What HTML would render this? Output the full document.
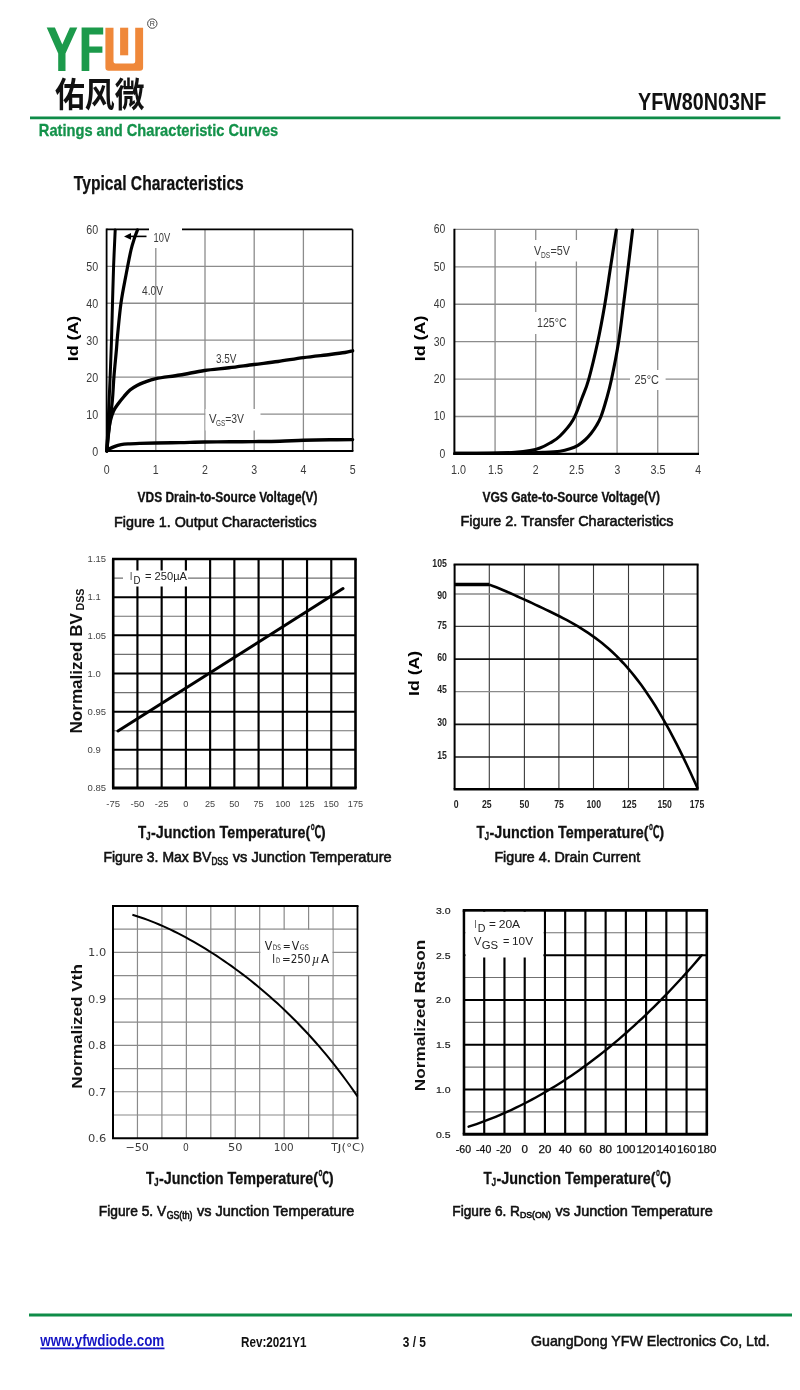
<!DOCTYPE html>
<html><head><meta charset="utf-8"><title>YFW80N03NF</title>
<style>html,body{margin:0;padding:0;background:#fff;}svg{display:block;}
</style></head>
<body><svg width="800" height="1390" viewBox="0 0 800 1390" font-family="'Liberation Sans', 'Noto Sans CJK SC', sans-serif">
<g fill="#1c9a4b">
<polygon points="46.7,27.6 54.9,27.6 62.3,44.6 69.9,27.6 77.3,27.6 65.5,53.6 65.5,70.9 58.2,70.9 58.2,53.6"/>
<polygon points="81.6,27.6 103.2,27.6 103.2,34.6 89.3,34.6 89.3,46.5 102.4,46.5 102.4,52.8 89.3,52.8 89.3,70.9 81.6,70.9"/>
</g>
<path fill="#ef883a" fill-rule="evenodd" d="M105.4,27.7 H113.5 V61.4 Q113.5,63.4 115.5,63.4 H133.2 Q135.2,63.4 135.2,61.4 V27.7 H143.1 V67.6 Q143.1,70.8 139.9,70.8 H108.6 Q105.4,70.8 105.4,67.6 Z"/>
<rect x="120.1" y="27.7" width="8.1" height="27.6" fill="#ef883a"/>
<circle cx="152.3" cy="23.6" r="4.7" fill="none" stroke="#333" stroke-width="0.9"/>
<text x="152.3" y="26.3" font-size="7.2" text-anchor="middle" fill="#333">R</text>
<text x="55" y="107" font-size="31" font-weight="bold" font-family="Noto Sans CJK SC, WenQuanYi Zen Hei, sans-serif" fill="#111" textLength="89.5" lengthAdjust="spacingAndGlyphs" transform="translate(0,-10.7) scale(1,1.1)">佑风微</text>
<text x="638" y="110.4" font-size="23.6" font-weight="bold" fill="#111" textLength="128.3" lengthAdjust="spacingAndGlyphs">YFW80N03NF</text>
<line x1="30.00" y1="117.85" x2="780.40" y2="117.85" stroke="#0e8c48" stroke-width="2.9"/>
<text x="38.8" y="136.4" font-size="16.6" font-weight="bold" fill="#13924a" textLength="239.4" lengthAdjust="spacingAndGlyphs" stroke="#13924a" stroke-width="0.3">Ratings and Characteristic Curves</text>
<text x="73.8" y="190.2" font-size="20" font-weight="bold" fill="#111" textLength="170" lengthAdjust="spacingAndGlyphs" stroke="#111" stroke-width="0.25">Typical Characteristics</text>
<line x1="29.00" y1="1315.00" x2="792.00" y2="1315.00" stroke="#0e8c48" stroke-width="2.9"/>
<text x="40.3" y="1346" font-size="16.5" font-weight="bold" fill="#1414c4" textLength="124" lengthAdjust="spacingAndGlyphs">www.yfwdiode.com</text>
<line x1="40.30" y1="1348.40" x2="164.50" y2="1348.40" stroke="#1414c4" stroke-width="1.9"/>
<text x="241" y="1347.3" font-size="14.5" font-weight="bold" fill="#111" textLength="65.6" lengthAdjust="spacingAndGlyphs">Rev:2021Y1</text>
<text x="402.8" y="1347.4" font-size="14.4" font-weight="bold" fill="#111" textLength="23.2" lengthAdjust="spacingAndGlyphs">3 / 5</text>
<text x="531.0" y="1345.6" font-size="14.8" fill="#111" textLength="238.8" lengthAdjust="spacingAndGlyphs" stroke="#111" stroke-width="0.55">GuangDong YFW Electronics Co, Ltd.</text>
<line x1="155.80" y1="229.40" x2="155.80" y2="451.00" stroke="#8c8c8c" stroke-width="1.3"/>
<line x1="205.00" y1="229.40" x2="205.00" y2="451.00" stroke="#8c8c8c" stroke-width="1.3"/>
<line x1="254.20" y1="229.40" x2="254.20" y2="451.00" stroke="#8c8c8c" stroke-width="1.3"/>
<line x1="303.40" y1="229.40" x2="303.40" y2="451.00" stroke="#8c8c8c" stroke-width="1.3"/>
<line x1="106.60" y1="414.07" x2="352.60" y2="414.07" stroke="#8c8c8c" stroke-width="1.3"/>
<line x1="106.60" y1="377.13" x2="352.60" y2="377.13" stroke="#8c8c8c" stroke-width="1.3"/>
<line x1="106.60" y1="340.20" x2="352.60" y2="340.20" stroke="#8c8c8c" stroke-width="1.3"/>
<line x1="106.60" y1="303.27" x2="352.60" y2="303.27" stroke="#8c8c8c" stroke-width="1.3"/>
<line x1="106.60" y1="266.33" x2="352.60" y2="266.33" stroke="#8c8c8c" stroke-width="1.3"/>
<line x1="106.60" y1="229.40" x2="352.60" y2="229.40" stroke="#000" stroke-width="1.8"/>
<line x1="352.60" y1="229.40" x2="352.60" y2="451.00" stroke="#000" stroke-width="1.6"/>
<line x1="106.60" y1="228.50" x2="106.60" y2="452.00" stroke="#000" stroke-width="1.8"/>
<line x1="105.70" y1="451.00" x2="353.40" y2="451.00" stroke="#000" stroke-width="2.0"/>
<rect x="149.00" y="226.00" width="33.00" height="22.00" fill="#fff"/>
<rect x="205.50" y="409.00" width="55.00" height="21.50" fill="#fff"/>
<path d="M106.80,451.00 C107.03,445.83 107.67,431.83 108.20,420.00 C108.73,408.17 109.45,393.33 110.00,380.00 C110.55,366.67 111.08,352.83 111.50,340.00 C111.92,327.17 112.15,315.33 112.50,303.00 C112.85,290.67 113.15,278.17 113.60,266.00 C114.05,253.83 114.93,236.00 115.20,230.00" fill="none" stroke="#000" stroke-linejoin="round" stroke-linecap="round" stroke-width="3.0"/>
<path d="M106.80,451.00 C107.25,446.67 108.57,433.50 109.50,425.00 C110.43,416.50 111.65,408.17 112.40,400.00 C113.15,391.83 113.33,384.33 114.00,376.00 C114.67,367.67 115.80,356.83 116.40,350.00 C117.00,343.17 116.83,342.83 117.60,335.00 C118.37,327.17 119.60,313.00 121.00,303.00 C122.40,293.00 124.33,283.83 126.00,275.00 C127.67,266.17 129.58,256.17 131.00,250.00 C132.42,243.83 133.42,241.33 134.50,238.00 C135.58,234.67 137.00,231.33 137.50,230.00" fill="none" stroke="#000" stroke-linejoin="round" stroke-linecap="round" stroke-width="3.2"/>
<path d="M106.80,451.00 C107.00,448.50 107.42,441.00 108.00,436.00 C108.58,431.00 109.38,425.17 110.30,421.00 C111.22,416.83 112.22,413.83 113.50,411.00 C114.78,408.17 116.25,406.42 118.00,404.00 C119.75,401.58 122.00,398.83 124.00,396.50 C126.00,394.17 127.83,391.83 130.00,390.00 C132.17,388.17 134.67,386.77 137.00,385.50 C139.33,384.23 140.83,383.55 144.00,382.40 C147.17,381.25 150.00,379.83 156.00,378.60 C162.00,377.37 171.92,376.35 180.00,375.00 C188.08,373.65 196.33,371.70 204.50,370.50 C212.67,369.30 220.75,368.80 229.00,367.80 C237.25,366.80 245.83,365.55 254.00,364.50 C262.17,363.45 269.75,362.65 278.00,361.50 C286.25,360.35 294.83,358.77 303.50,357.60 C312.17,356.43 323.08,355.35 330.00,354.50 C336.92,353.65 341.23,353.12 345.00,352.50 C348.77,351.88 351.33,351.08 352.60,350.80" fill="none" stroke="#000" stroke-linejoin="round" stroke-linecap="round" stroke-width="3.4"/>
<path d="M106.80,451.00 C107.33,450.60 108.63,449.38 110.00,448.60 C111.37,447.82 113.17,446.95 115.00,446.30 C116.83,445.65 118.83,445.10 121.00,444.70 C123.17,444.30 124.83,444.12 128.00,443.90 C131.17,443.68 135.33,443.55 140.00,443.40 C144.67,443.25 149.33,443.13 156.00,443.00 C162.67,442.87 172.00,442.77 180.00,442.60 C188.00,442.43 195.67,442.13 204.00,442.00 C212.33,441.87 221.67,441.87 230.00,441.80 C238.33,441.73 245.67,441.70 254.00,441.60 C262.33,441.50 271.75,441.42 280.00,441.20 C288.25,440.98 295.17,440.53 303.50,440.30 C311.83,440.07 321.82,439.92 330.00,439.80 C338.18,439.68 348.83,439.63 352.60,439.60" fill="none" stroke="#000" stroke-linejoin="round" stroke-linecap="round" stroke-width="3.4"/>
<line x1="127.00" y1="236.40" x2="146.50" y2="236.40" stroke="#000" stroke-width="1.6"/>
<polygon points="124,236.4 131,233 131,239.8" fill="#000"/>
<text x="98.2" y="455.7" font-size="13.3" text-anchor="end" fill="#3a3a3a" textLength="5.95" lengthAdjust="spacingAndGlyphs">0</text>
<text x="98.2" y="418.76666666666665" font-size="13.3" text-anchor="end" fill="#3a3a3a" textLength="11.9" lengthAdjust="spacingAndGlyphs">10</text>
<text x="98.2" y="381.8333333333333" font-size="13.3" text-anchor="end" fill="#3a3a3a" textLength="11.9" lengthAdjust="spacingAndGlyphs">20</text>
<text x="98.2" y="344.90000000000003" font-size="13.3" text-anchor="end" fill="#3a3a3a" textLength="11.9" lengthAdjust="spacingAndGlyphs">30</text>
<text x="98.2" y="307.96666666666664" font-size="13.3" text-anchor="end" fill="#3a3a3a" textLength="11.9" lengthAdjust="spacingAndGlyphs">40</text>
<text x="98.2" y="271.03333333333336" font-size="13.3" text-anchor="end" fill="#3a3a3a" textLength="11.9" lengthAdjust="spacingAndGlyphs">50</text>
<text x="98.2" y="234.10000000000002" font-size="13.3" text-anchor="end" fill="#3a3a3a" textLength="11.9" lengthAdjust="spacingAndGlyphs">60</text>
<text x="106.6" y="474.2" font-size="13.0" text-anchor="middle" fill="#3a3a3a" textLength="5.9" lengthAdjust="spacingAndGlyphs">0</text>
<text x="155.8" y="474.2" font-size="13.0" text-anchor="middle" fill="#3a3a3a" textLength="5.9" lengthAdjust="spacingAndGlyphs">1</text>
<text x="205.0" y="474.2" font-size="13.0" text-anchor="middle" fill="#3a3a3a" textLength="5.9" lengthAdjust="spacingAndGlyphs">2</text>
<text x="254.20000000000002" y="474.2" font-size="13.0" text-anchor="middle" fill="#3a3a3a" textLength="5.9" lengthAdjust="spacingAndGlyphs">3</text>
<text x="303.4" y="474.2" font-size="13.0" text-anchor="middle" fill="#3a3a3a" textLength="5.9" lengthAdjust="spacingAndGlyphs">4</text>
<text x="352.6" y="474.2" font-size="13.0" text-anchor="middle" fill="#3a3a3a" textLength="5.9" lengthAdjust="spacingAndGlyphs">5</text>
<text x="153.6" y="241.6" font-size="12.8" fill="#3a3a3a" textLength="16.6" lengthAdjust="spacingAndGlyphs">10V</text>
<text x="142" y="295" font-size="12.6" fill="#3a3a3a" textLength="21" lengthAdjust="spacingAndGlyphs">4.0V</text>
<text x="216" y="362.5" font-size="12.6" fill="#3a3a3a" textLength="20.5" lengthAdjust="spacingAndGlyphs">3.5V</text>
<text x="209" y="422.5" font-size="12.6" fill="#3a3a3a" textLength="7.6" lengthAdjust="spacingAndGlyphs">V</text>
<text x="216.0" y="426.0" font-size="8.6" fill="#3a3a3a" textLength="9.2" lengthAdjust="spacingAndGlyphs">GS</text>
<text x="225.2" y="422.5" font-size="12.6" fill="#3a3a3a" textLength="18.8" lengthAdjust="spacingAndGlyphs">=3V</text>
<text transform="translate(78.2,338.5) rotate(-90)" x="0" y="0" font-size="14.2" font-weight="bold" text-anchor="middle" fill="#000" textLength="45.5" lengthAdjust="spacingAndGlyphs">Id (A)</text>
<text x="137.5" y="502.3" font-size="13.8" font-weight="bold" fill="#111" textLength="180" lengthAdjust="spacingAndGlyphs" stroke="#111" stroke-width="0.3">VDS Drain-to-Source Voltage(V)</text>
<text x="114.1" y="526.6" font-size="15.4" fill="#111" textLength="202.5" lengthAdjust="spacingAndGlyphs" stroke="#111" stroke-width="0.6">Figure 1. Output Characteristics</text>
<line x1="495.07" y1="229.40" x2="495.07" y2="453.90" stroke="#8c8c8c" stroke-width="1.3"/>
<line x1="535.73" y1="229.40" x2="535.73" y2="453.90" stroke="#8c8c8c" stroke-width="1.3"/>
<line x1="576.40" y1="229.40" x2="576.40" y2="453.90" stroke="#8c8c8c" stroke-width="1.3"/>
<line x1="617.07" y1="229.40" x2="617.07" y2="453.90" stroke="#8c8c8c" stroke-width="1.3"/>
<line x1="657.73" y1="229.40" x2="657.73" y2="453.90" stroke="#8c8c8c" stroke-width="1.3"/>
<line x1="698.40" y1="229.40" x2="698.40" y2="453.90" stroke="#8c8c8c" stroke-width="1.3"/>
<line x1="454.40" y1="416.48" x2="698.40" y2="416.48" stroke="#8c8c8c" stroke-width="1.3"/>
<line x1="454.40" y1="379.07" x2="698.40" y2="379.07" stroke="#8c8c8c" stroke-width="1.3"/>
<line x1="454.40" y1="341.65" x2="698.40" y2="341.65" stroke="#8c8c8c" stroke-width="1.3"/>
<line x1="454.40" y1="304.23" x2="698.40" y2="304.23" stroke="#8c8c8c" stroke-width="1.3"/>
<line x1="454.40" y1="266.82" x2="698.40" y2="266.82" stroke="#8c8c8c" stroke-width="1.3"/>
<line x1="454.40" y1="229.40" x2="698.40" y2="229.40" stroke="#8c8c8c" stroke-width="1.3"/>
<line x1="454.40" y1="228.80" x2="454.40" y2="454.90" stroke="#000" stroke-width="2.0"/>
<line x1="453.40" y1="453.90" x2="699.00" y2="453.90" stroke="#000" stroke-width="2.4"/>
<rect x="531.00" y="240.00" width="50.00" height="21.50" fill="#fff"/>
<rect x="532.00" y="312.00" width="38.00" height="22.00" fill="#fff"/>
<rect x="630.00" y="370.00" width="35.60" height="20.00" fill="#fff"/>
<path d="M455.00,453.30 C461.67,453.27 485.00,453.27 495.00,453.10 C505.00,452.93 509.17,452.72 515.00,452.30 C520.83,451.88 525.83,451.32 530.00,450.60 C534.17,449.88 536.67,449.27 540.00,448.00 C543.33,446.73 546.67,445.00 550.00,443.00 C553.33,441.00 556.17,439.83 560.00,436.00 C563.83,432.17 569.33,426.33 573.00,420.00 C576.67,413.67 579.38,404.78 582.00,398.00 C584.62,391.22 586.08,388.63 588.70,379.30 C591.32,369.97 595.02,354.47 597.70,342.00 C600.38,329.53 602.65,317.05 604.80,304.50 C606.95,291.95 608.68,279.12 610.60,266.70 C612.52,254.28 615.35,236.12 616.30,230.00" fill="none" stroke="#000" stroke-linejoin="round" stroke-linecap="round" stroke-width="3.1"/>
<path d="M455.00,453.40 C465.83,453.33 505.00,453.18 520.00,453.00 C535.00,452.82 538.33,452.60 545.00,452.30 C551.67,452.00 555.83,451.78 560.00,451.20 C564.17,450.62 567.00,449.78 570.00,448.80 C573.00,447.82 575.50,446.77 578.00,445.30 C580.50,443.83 582.83,441.97 585.00,440.00 C587.17,438.03 589.08,435.92 591.00,433.50 C592.92,431.08 594.83,428.33 596.50,425.50 C598.17,422.67 599.33,420.92 601.00,416.50 C602.67,412.08 604.75,405.20 606.50,399.00 C608.25,392.80 609.48,388.80 611.50,379.30 C613.52,369.80 616.60,354.47 618.60,342.00 C620.60,329.53 621.90,317.05 623.50,304.50 C625.10,291.95 626.68,279.12 628.20,266.70 C629.72,254.28 631.87,236.12 632.60,230.00" fill="none" stroke="#000" stroke-linejoin="round" stroke-linecap="round" stroke-width="3.1"/>
<text x="445.4" y="457.79999999999995" font-size="13.3" text-anchor="end" fill="#3a3a3a" textLength="5.8" lengthAdjust="spacingAndGlyphs">0</text>
<text x="445.4" y="420.38333333333327" font-size="13.3" text-anchor="end" fill="#3a3a3a" textLength="11.6" lengthAdjust="spacingAndGlyphs">10</text>
<text x="445.4" y="382.96666666666664" font-size="13.3" text-anchor="end" fill="#3a3a3a" textLength="11.6" lengthAdjust="spacingAndGlyphs">20</text>
<text x="445.4" y="345.54999999999995" font-size="13.3" text-anchor="end" fill="#3a3a3a" textLength="11.6" lengthAdjust="spacingAndGlyphs">30</text>
<text x="445.4" y="308.1333333333333" font-size="13.3" text-anchor="end" fill="#3a3a3a" textLength="11.6" lengthAdjust="spacingAndGlyphs">40</text>
<text x="445.4" y="270.71666666666664" font-size="13.3" text-anchor="end" fill="#3a3a3a" textLength="11.6" lengthAdjust="spacingAndGlyphs">50</text>
<text x="445.4" y="233.29999999999998" font-size="13.3" text-anchor="end" fill="#3a3a3a" textLength="11.6" lengthAdjust="spacingAndGlyphs">60</text>
<text x="458.6" y="474.4" font-size="13.0" text-anchor="middle" fill="#3a3a3a" textLength="15" lengthAdjust="spacingAndGlyphs">1.0</text>
<text x="495.5" y="474.4" font-size="13.0" text-anchor="middle" fill="#3a3a3a" textLength="15" lengthAdjust="spacingAndGlyphs">1.5</text>
<text x="535.6" y="474.4" font-size="13.0" text-anchor="middle" fill="#3a3a3a" textLength="5.8" lengthAdjust="spacingAndGlyphs">2</text>
<text x="576.5" y="474.4" font-size="13.0" text-anchor="middle" fill="#3a3a3a" textLength="15" lengthAdjust="spacingAndGlyphs">2.5</text>
<text x="617.4" y="474.4" font-size="13.0" text-anchor="middle" fill="#3a3a3a" textLength="5.8" lengthAdjust="spacingAndGlyphs">3</text>
<text x="658.1" y="474.4" font-size="13.0" text-anchor="middle" fill="#3a3a3a" textLength="15" lengthAdjust="spacingAndGlyphs">3.5</text>
<text x="698.2" y="474.4" font-size="13.0" text-anchor="middle" fill="#3a3a3a" textLength="5.8" lengthAdjust="spacingAndGlyphs">4</text>
<text x="534" y="255" font-size="12.6" fill="#3a3a3a" textLength="7.2" lengthAdjust="spacingAndGlyphs">V</text>
<text x="540.9" y="258.2" font-size="8.6" fill="#3a3a3a" textLength="9.2" lengthAdjust="spacingAndGlyphs">DS</text>
<text x="550.4" y="255" font-size="12.6" fill="#3a3a3a" textLength="19.6" lengthAdjust="spacingAndGlyphs">=5V</text>
<text x="537" y="327" font-size="13.2" fill="#3a3a3a" textLength="29.7" lengthAdjust="spacingAndGlyphs">125°C</text>
<text x="634.4" y="383.6" font-size="13.2" fill="#3a3a3a" textLength="24.6" lengthAdjust="spacingAndGlyphs">25°C</text>
<text transform="translate(425.0,338.4) rotate(-90)" x="0" y="0" font-size="14.2" font-weight="bold" text-anchor="middle" fill="#000" textLength="45.5" lengthAdjust="spacingAndGlyphs">Id (A)</text>
<text x="482.4" y="501.5" font-size="13.8" font-weight="bold" fill="#111" textLength="177.6" lengthAdjust="spacingAndGlyphs" stroke="#111" stroke-width="0.3">VGS Gate-to-Source Voltage(V)</text>
<text x="460.5" y="525.6" font-size="15.4" fill="#111" textLength="213" lengthAdjust="spacingAndGlyphs" stroke="#111" stroke-width="0.6">Figure 2. Transfer Characteristics</text>
<line x1="113.20" y1="578.08" x2="355.50" y2="578.08" stroke="#707070" stroke-width="1.1"/>
<line x1="113.20" y1="616.25" x2="355.50" y2="616.25" stroke="#707070" stroke-width="1.1"/>
<line x1="113.20" y1="654.42" x2="355.50" y2="654.42" stroke="#707070" stroke-width="1.1"/>
<line x1="113.20" y1="692.58" x2="355.50" y2="692.58" stroke="#707070" stroke-width="1.1"/>
<line x1="113.20" y1="730.75" x2="355.50" y2="730.75" stroke="#707070" stroke-width="1.1"/>
<line x1="113.20" y1="768.92" x2="355.50" y2="768.92" stroke="#707070" stroke-width="1.1"/>
<line x1="113.20" y1="597.17" x2="355.50" y2="597.17" stroke="#000" stroke-width="2.0"/>
<line x1="113.20" y1="635.33" x2="355.50" y2="635.33" stroke="#000" stroke-width="2.0"/>
<line x1="113.20" y1="673.50" x2="355.50" y2="673.50" stroke="#000" stroke-width="2.0"/>
<line x1="113.20" y1="711.67" x2="355.50" y2="711.67" stroke="#000" stroke-width="2.0"/>
<line x1="113.20" y1="749.83" x2="355.50" y2="749.83" stroke="#000" stroke-width="2.0"/>
<line x1="137.43" y1="559.00" x2="137.43" y2="788.00" stroke="#000" stroke-width="2.15"/>
<line x1="161.66" y1="559.00" x2="161.66" y2="788.00" stroke="#000" stroke-width="2.15"/>
<line x1="185.89" y1="559.00" x2="185.89" y2="788.00" stroke="#000" stroke-width="2.15"/>
<line x1="210.12" y1="559.00" x2="210.12" y2="788.00" stroke="#000" stroke-width="2.15"/>
<line x1="234.35" y1="559.00" x2="234.35" y2="788.00" stroke="#000" stroke-width="2.15"/>
<line x1="258.58" y1="559.00" x2="258.58" y2="788.00" stroke="#000" stroke-width="2.15"/>
<line x1="282.81" y1="559.00" x2="282.81" y2="788.00" stroke="#000" stroke-width="2.15"/>
<line x1="307.04" y1="559.00" x2="307.04" y2="788.00" stroke="#000" stroke-width="2.15"/>
<line x1="331.27" y1="559.00" x2="331.27" y2="788.00" stroke="#000" stroke-width="2.15"/>
<line x1="112.00" y1="559.00" x2="356.70" y2="559.00" stroke="#000" stroke-width="2.4"/>
<line x1="112.00" y1="788.00" x2="356.70" y2="788.00" stroke="#000" stroke-width="3.0"/>
<line x1="113.20" y1="559.00" x2="113.20" y2="788.00" stroke="#000" stroke-width="2.6"/>
<line x1="355.50" y1="559.00" x2="355.50" y2="788.00" stroke="#000" stroke-width="2.6"/>
<rect x="123.00" y="570.50" width="65.00" height="16.00" fill="#fff"/>
<path d="M118,731 L343,588.6" fill="none" stroke="#000" stroke-width="3.0" stroke-linecap="round"/>
<text x="130" y="580.3" font-size="11.5" fill="#222" textLength="2.2" lengthAdjust="spacingAndGlyphs">I</text>
<text x="133.4" y="584.4" font-size="11.5" fill="#222" textLength="7" lengthAdjust="spacingAndGlyphs">D</text>
<text x="145" y="580.3" font-size="11.5" fill="#222" textLength="42" lengthAdjust="spacingAndGlyphs">= 250µA</text>
<text x="87.6" y="562.2" font-size="8.8" fill="#444" textLength="18.5" lengthAdjust="spacingAndGlyphs">1.15</text>
<text x="87.6" y="600.3666666666667" font-size="8.8" fill="#444" textLength="13.2" lengthAdjust="spacingAndGlyphs">1.1</text>
<text x="87.6" y="638.5333333333334" font-size="8.8" fill="#444" textLength="18.5" lengthAdjust="spacingAndGlyphs">1.05</text>
<text x="87.6" y="676.7" font-size="8.8" fill="#444" textLength="13.2" lengthAdjust="spacingAndGlyphs">1.0</text>
<text x="87.6" y="714.8666666666667" font-size="8.8" fill="#444" textLength="18.5" lengthAdjust="spacingAndGlyphs">0.95</text>
<text x="87.6" y="753.0333333333333" font-size="8.8" fill="#444" textLength="13.2" lengthAdjust="spacingAndGlyphs">0.9</text>
<text x="87.6" y="791.2" font-size="8.8" fill="#444" textLength="18.5" lengthAdjust="spacingAndGlyphs">0.85</text>
<text x="113.2" y="807" font-size="8.8" text-anchor="middle" fill="#444" textLength="13.799999999999999" lengthAdjust="spacingAndGlyphs">-75</text>
<text x="137.43" y="807" font-size="8.8" text-anchor="middle" fill="#444" textLength="13.799999999999999" lengthAdjust="spacingAndGlyphs">-50</text>
<text x="161.66" y="807" font-size="8.8" text-anchor="middle" fill="#444" textLength="13.799999999999999" lengthAdjust="spacingAndGlyphs">-25</text>
<text x="185.89" y="807" font-size="8.8" text-anchor="middle" fill="#444" textLength="5.1" lengthAdjust="spacingAndGlyphs">0</text>
<text x="210.12" y="807" font-size="8.8" text-anchor="middle" fill="#444" textLength="10.2" lengthAdjust="spacingAndGlyphs">25</text>
<text x="234.35000000000002" y="807" font-size="8.8" text-anchor="middle" fill="#444" textLength="10.2" lengthAdjust="spacingAndGlyphs">50</text>
<text x="258.58" y="807" font-size="8.8" text-anchor="middle" fill="#444" textLength="10.2" lengthAdjust="spacingAndGlyphs">75</text>
<text x="282.81" y="807" font-size="8.8" text-anchor="middle" fill="#444" textLength="15.299999999999999" lengthAdjust="spacingAndGlyphs">100</text>
<text x="307.04" y="807" font-size="8.8" text-anchor="middle" fill="#444" textLength="15.299999999999999" lengthAdjust="spacingAndGlyphs">125</text>
<text x="331.27" y="807" font-size="8.8" text-anchor="middle" fill="#444" textLength="15.299999999999999" lengthAdjust="spacingAndGlyphs">150</text>
<text x="355.5" y="807" font-size="8.8" text-anchor="middle" fill="#444" textLength="15.299999999999999" lengthAdjust="spacingAndGlyphs">175</text>
<text transform="translate(82,733.5) rotate(-90)" font-size="16" font-weight="bold" fill="#111" textLength="120.5" lengthAdjust="spacingAndGlyphs">Normalized BV</text>
<text transform="translate(83.6,610.6) rotate(-90)" font-size="10.5" font-weight="bold" fill="#111" textLength="22" lengthAdjust="spacingAndGlyphs">DSS</text>
<text x="138.1" y="838.3" font-size="17" font-weight="bold" fill="#111" textLength="8.2" lengthAdjust="spacingAndGlyphs" stroke="#111" stroke-width="0.3">T</text>
<text x="146.0" y="840.4" font-size="10.5" font-weight="bold" fill="#111" textLength="4.6" lengthAdjust="spacingAndGlyphs" stroke="#111" stroke-width="0.3">J</text>
<text x="151.0" y="838.3" font-size="17" font-weight="bold" fill="#111" textLength="159.2" lengthAdjust="spacingAndGlyphs" stroke="#111" stroke-width="0.3">-Junction Temperature(</text>
<text x="310.7" y="838.3" font-size="16.5" font-weight="bold" font-family="'Noto Sans CJK SC', 'Noto Sans CJK SC', sans-serif" fill="#111" textLength="10.5" lengthAdjust="spacingAndGlyphs" stroke="#111" stroke-width="0.3">℃</text>
<text x="320.79999999999995" y="838.3" font-size="17" font-weight="bold" fill="#111" textLength="4.9" lengthAdjust="spacingAndGlyphs" stroke="#111" stroke-width="0.3">)</text>
<text x="103.4" y="861.9" font-size="15" fill="#111" textLength="107.9" lengthAdjust="spacingAndGlyphs" stroke="#111" stroke-width="0.6">Figure 3. Max BV</text>
<text x="211.5" y="865" font-size="10" fill="#111" textLength="16.6" lengthAdjust="spacingAndGlyphs" stroke="#111" stroke-width="0.6">DSS</text>
<text x="232.75" y="861.9" font-size="15" fill="#111" textLength="158.9" lengthAdjust="spacingAndGlyphs" stroke="#111" stroke-width="0.6">vs Junction Temperature</text>
<line x1="489.30" y1="564.50" x2="489.30" y2="789.20" stroke="#3a3a3a" stroke-width="1.1"/>
<line x1="524.40" y1="564.50" x2="524.40" y2="789.20" stroke="#3a3a3a" stroke-width="1.1"/>
<line x1="558.90" y1="564.50" x2="558.90" y2="789.20" stroke="#3a3a3a" stroke-width="1.1"/>
<line x1="593.50" y1="564.50" x2="593.50" y2="789.20" stroke="#3a3a3a" stroke-width="1.1"/>
<line x1="628.50" y1="564.50" x2="628.50" y2="789.20" stroke="#3a3a3a" stroke-width="1.1"/>
<line x1="663.60" y1="564.50" x2="663.60" y2="789.20" stroke="#3a3a3a" stroke-width="1.1"/>
<line x1="454.60" y1="594.00" x2="697.60" y2="594.00" stroke="#8a8a8a" stroke-width="1.3"/>
<line x1="454.60" y1="626.40" x2="697.60" y2="626.40" stroke="#3c3c3c" stroke-width="1.3"/>
<line x1="454.60" y1="659.10" x2="697.60" y2="659.10" stroke="#111" stroke-width="1.6"/>
<line x1="454.60" y1="691.60" x2="697.60" y2="691.60" stroke="#8a8a8a" stroke-width="1.3"/>
<line x1="454.60" y1="724.40" x2="697.60" y2="724.40" stroke="#111" stroke-width="1.6"/>
<line x1="454.60" y1="757.00" x2="697.60" y2="757.00" stroke="#1a1a1a" stroke-width="1.6"/>
<line x1="453.60" y1="564.50" x2="698.60" y2="564.50" stroke="#000" stroke-width="2.2"/>
<line x1="453.60" y1="789.20" x2="698.60" y2="789.20" stroke="#000" stroke-width="2.6"/>
<line x1="454.60" y1="564.50" x2="454.60" y2="789.20" stroke="#000" stroke-width="2.0"/>
<line x1="697.60" y1="564.50" x2="697.60" y2="789.20" stroke="#000" stroke-width="2.0"/>
<path d="M455,584.5 L489.3,584.5" stroke="#000" stroke-width="3.6" fill="none"/>
<path d="M489.30,584.64 L492.83,585.95 L496.36,587.32 L499.89,588.76 L503.42,590.24 L506.95,591.75 L510.48,593.30 L514.01,594.87 L517.54,596.45 L521.07,598.06 L524.61,599.67 L528.14,601.29 L531.67,602.92 L535.20,604.56 L538.73,606.21 L542.26,607.87 L545.79,609.55 L549.32,611.25 L552.85,612.97 L556.38,614.72 L559.91,616.51 L563.44,618.33 L566.97,620.21 L570.50,622.14 L574.03,624.13 L577.56,626.19 L581.09,628.33 L584.62,630.56 L588.15,632.88 L591.68,635.31 L595.22,637.85 L598.75,640.51 L602.28,643.30 L605.81,646.23 L609.34,649.31 L612.87,652.54 L616.40,655.93 L619.93,659.50 L623.46,663.24 L626.99,667.17 L630.52,671.29 L634.05,675.60 L637.58,680.11 L641.11,684.83 L644.64,689.76 L648.17,694.90 L651.70,700.26 L655.23,705.82 L658.76,711.61 L662.29,717.60 L665.83,723.81 L669.36,730.23 L672.89,736.86 L676.42,743.68 L679.95,750.69 L683.48,757.89 L687.01,765.27 L690.54,772.81 L694.07,780.50 L697.60,788.33" fill="none" stroke="#000" stroke-width="2.6" stroke-linejoin="round"/>
<text x="446.9" y="567.4" font-size="10.8" font-weight="bold" text-anchor="end" fill="#222" textLength="14.6" lengthAdjust="spacingAndGlyphs">105</text>
<text x="446.9" y="598.9" font-size="10.8" font-weight="bold" text-anchor="end" fill="#222" textLength="9.7" lengthAdjust="spacingAndGlyphs">90</text>
<text x="446.9" y="628.6" font-size="10.8" font-weight="bold" text-anchor="end" fill="#222" textLength="9.7" lengthAdjust="spacingAndGlyphs">75</text>
<text x="446.9" y="660.5" font-size="10.8" font-weight="bold" text-anchor="end" fill="#222" textLength="9.7" lengthAdjust="spacingAndGlyphs">60</text>
<text x="446.9" y="693.4" font-size="10.8" font-weight="bold" text-anchor="end" fill="#222" textLength="9.7" lengthAdjust="spacingAndGlyphs">45</text>
<text x="446.9" y="725.9" font-size="10.8" font-weight="bold" text-anchor="end" fill="#222" textLength="9.7" lengthAdjust="spacingAndGlyphs">30</text>
<text x="446.9" y="758.6999999999999" font-size="10.8" font-weight="bold" text-anchor="end" fill="#222" textLength="9.7" lengthAdjust="spacingAndGlyphs">15</text>
<text x="456.2" y="807.8" font-size="10.8" font-weight="bold" text-anchor="middle" fill="#222" textLength="4.85" lengthAdjust="spacingAndGlyphs">0</text>
<text x="486.8" y="807.8" font-size="10.8" font-weight="bold" text-anchor="middle" fill="#222" textLength="9.7" lengthAdjust="spacingAndGlyphs">25</text>
<text x="524.4" y="807.8" font-size="10.8" font-weight="bold" text-anchor="middle" fill="#222" textLength="9.7" lengthAdjust="spacingAndGlyphs">50</text>
<text x="559.0" y="807.8" font-size="10.8" font-weight="bold" text-anchor="middle" fill="#222" textLength="9.7" lengthAdjust="spacingAndGlyphs">75</text>
<text x="593.8" y="807.8" font-size="10.8" font-weight="bold" text-anchor="middle" fill="#222" textLength="14.549999999999999" lengthAdjust="spacingAndGlyphs">100</text>
<text x="629.3" y="807.8" font-size="10.8" font-weight="bold" text-anchor="middle" fill="#222" textLength="14.549999999999999" lengthAdjust="spacingAndGlyphs">125</text>
<text x="664.7" y="807.8" font-size="10.8" font-weight="bold" text-anchor="middle" fill="#222" textLength="14.549999999999999" lengthAdjust="spacingAndGlyphs">150</text>
<text x="697.0" y="807.8" font-size="10.8" font-weight="bold" text-anchor="middle" fill="#222" textLength="14.549999999999999" lengthAdjust="spacingAndGlyphs">175</text>
<text transform="translate(419.2,673.4) rotate(-90)" x="0" y="0" font-size="14.2" font-weight="bold" text-anchor="middle" fill="#000" textLength="45.2" lengthAdjust="spacingAndGlyphs">Id (A)</text>
<text x="476.5" y="837.6" font-size="17" font-weight="bold" fill="#111" textLength="8.2" lengthAdjust="spacingAndGlyphs" stroke="#111" stroke-width="0.3">T</text>
<text x="484.4" y="839.7" font-size="10.5" font-weight="bold" fill="#111" textLength="4.6" lengthAdjust="spacingAndGlyphs" stroke="#111" stroke-width="0.3">J</text>
<text x="489.4" y="837.6" font-size="17" font-weight="bold" fill="#111" textLength="159.2" lengthAdjust="spacingAndGlyphs" stroke="#111" stroke-width="0.3">-Junction Temperature(</text>
<text x="649.1" y="837.6" font-size="16.5" font-weight="bold" font-family="'Noto Sans CJK SC', 'Noto Sans CJK SC', sans-serif" fill="#111" textLength="10.5" lengthAdjust="spacingAndGlyphs" stroke="#111" stroke-width="0.3">℃</text>
<text x="659.2" y="837.6" font-size="17" font-weight="bold" fill="#111" textLength="4.9" lengthAdjust="spacingAndGlyphs" stroke="#111" stroke-width="0.3">)</text>
<text x="494.4" y="862.3" font-size="15.2" fill="#111" textLength="145.7" lengthAdjust="spacingAndGlyphs" stroke="#111" stroke-width="0.6">Figure 4. Drain Current</text>
<line x1="137.45" y1="906.00" x2="137.45" y2="1138.20" stroke="#8a8a8a" stroke-width="1.2"/>
<line x1="161.90" y1="906.00" x2="161.90" y2="1138.20" stroke="#8a8a8a" stroke-width="1.2"/>
<line x1="186.35" y1="906.00" x2="186.35" y2="1138.20" stroke="#8a8a8a" stroke-width="1.2"/>
<line x1="210.80" y1="906.00" x2="210.80" y2="1138.20" stroke="#8a8a8a" stroke-width="1.2"/>
<line x1="235.25" y1="906.00" x2="235.25" y2="1138.20" stroke="#8a8a8a" stroke-width="1.2"/>
<line x1="259.70" y1="906.00" x2="259.70" y2="1138.20" stroke="#8a8a8a" stroke-width="1.2"/>
<line x1="284.15" y1="906.00" x2="284.15" y2="1138.20" stroke="#8a8a8a" stroke-width="1.2"/>
<line x1="308.60" y1="906.00" x2="308.60" y2="1138.20" stroke="#8a8a8a" stroke-width="1.2"/>
<line x1="333.05" y1="906.00" x2="333.05" y2="1138.20" stroke="#8a8a8a" stroke-width="1.2"/>
<line x1="113.00" y1="929.22" x2="357.50" y2="929.22" stroke="#8a8a8a" stroke-width="1.2"/>
<line x1="113.00" y1="952.44" x2="357.50" y2="952.44" stroke="#8a8a8a" stroke-width="1.2"/>
<line x1="113.00" y1="975.66" x2="357.50" y2="975.66" stroke="#8a8a8a" stroke-width="1.2"/>
<line x1="113.00" y1="998.88" x2="357.50" y2="998.88" stroke="#8a8a8a" stroke-width="1.2"/>
<line x1="113.00" y1="1022.10" x2="357.50" y2="1022.10" stroke="#8a8a8a" stroke-width="1.2"/>
<line x1="113.00" y1="1045.32" x2="357.50" y2="1045.32" stroke="#8a8a8a" stroke-width="1.2"/>
<line x1="113.00" y1="1068.54" x2="357.50" y2="1068.54" stroke="#8a8a8a" stroke-width="1.2"/>
<line x1="113.00" y1="1091.76" x2="357.50" y2="1091.76" stroke="#8a8a8a" stroke-width="1.2"/>
<line x1="113.00" y1="1114.98" x2="357.50" y2="1114.98" stroke="#8a8a8a" stroke-width="1.2"/>
<line x1="112.00" y1="906.00" x2="358.50" y2="906.00" stroke="#000" stroke-width="1.8"/>
<line x1="112.00" y1="1138.20" x2="358.50" y2="1138.20" stroke="#000" stroke-width="2.0"/>
<line x1="113.00" y1="906.00" x2="113.00" y2="1138.20" stroke="#000" stroke-width="2.0"/>
<line x1="357.50" y1="906.00" x2="357.50" y2="1138.20" stroke="#000" stroke-width="1.8"/>
<rect x="260.40" y="929.92" width="71.95" height="45.04" fill="#fff"/>
<path d="M132.40,914.77 L136.22,915.94 L140.03,917.19 L143.85,918.51 L147.66,919.90 L151.48,921.36 L155.29,922.89 L159.11,924.49 L162.92,926.15 L166.74,927.88 L170.55,929.67 L174.37,931.52 L178.18,933.43 L182.00,935.40 L185.81,937.43 L189.63,939.52 L193.44,941.67 L197.26,943.87 L201.07,946.12 L204.89,948.44 L208.71,950.80 L212.52,953.23 L216.34,955.71 L220.15,958.24 L223.97,960.84 L227.78,963.48 L231.60,966.19 L235.41,968.95 L239.23,971.77 L243.04,974.64 L246.86,977.58 L250.67,980.58 L254.49,983.64 L258.30,986.76 L262.12,989.95 L265.93,993.20 L269.75,996.51 L273.56,999.90 L277.38,1003.36 L281.19,1006.89 L285.01,1010.49 L288.83,1014.17 L292.64,1017.93 L296.46,1021.77 L300.27,1025.69 L304.09,1029.69 L307.90,1033.79 L311.72,1037.97 L315.53,1042.25 L319.35,1046.63 L323.16,1051.10 L326.98,1055.68 L330.79,1060.37 L334.61,1065.16 L338.42,1070.06 L342.24,1075.09 L346.05,1080.23 L349.87,1085.49 L353.68,1090.89 L357.50,1096.41" fill="none" stroke="#000" stroke-width="2.0" stroke-linejoin="round"/>
<text x="106.2" y="956.44" font-size="11" text-anchor="end" font-family="'DejaVu Sans', 'Noto Sans CJK SC', sans-serif" fill="#3c3c3c" textLength="18.2" lengthAdjust="spacingAndGlyphs">1.0</text>
<text x="106.2" y="1002.88" font-size="11" text-anchor="end" font-family="'DejaVu Sans', 'Noto Sans CJK SC', sans-serif" fill="#3c3c3c" textLength="18.2" lengthAdjust="spacingAndGlyphs">0.9</text>
<text x="106.2" y="1049.3200000000002" font-size="11" text-anchor="end" font-family="'DejaVu Sans', 'Noto Sans CJK SC', sans-serif" fill="#3c3c3c" textLength="18.2" lengthAdjust="spacingAndGlyphs">0.8</text>
<text x="106.2" y="1095.76" font-size="11" text-anchor="end" font-family="'DejaVu Sans', 'Noto Sans CJK SC', sans-serif" fill="#3c3c3c" textLength="18.2" lengthAdjust="spacingAndGlyphs">0.7</text>
<text x="106.2" y="1142.2" font-size="11" text-anchor="end" font-family="'DejaVu Sans', 'Noto Sans CJK SC', sans-serif" fill="#3c3c3c" textLength="18.2" lengthAdjust="spacingAndGlyphs">0.6</text>
<text x="137.25" y="1151.4" font-size="11" text-anchor="middle" font-family="'DejaVu Sans', 'Noto Sans CJK SC', sans-serif" fill="#3c3c3c" textLength="23.3" lengthAdjust="spacingAndGlyphs">−50</text>
<text x="185.9" y="1151.4" font-size="11" text-anchor="middle" font-family="'DejaVu Sans', 'Noto Sans CJK SC', sans-serif" fill="#3c3c3c" textLength="5.8" lengthAdjust="spacingAndGlyphs">0</text>
<text x="235.25" y="1151.4" font-size="11" text-anchor="middle" font-family="'DejaVu Sans', 'Noto Sans CJK SC', sans-serif" fill="#3c3c3c" textLength="14.5" lengthAdjust="spacingAndGlyphs">50</text>
<text x="283.75" y="1151.4" font-size="11" text-anchor="middle" font-family="'DejaVu Sans', 'Noto Sans CJK SC', sans-serif" fill="#3c3c3c" textLength="20" lengthAdjust="spacingAndGlyphs">100</text>
<text x="331.3" y="1151.4" font-size="11" font-family="'DejaVu Sans', 'Noto Sans CJK SC', sans-serif" fill="#3c3c3c" textLength="6.5" lengthAdjust="spacingAndGlyphs">T</text>
<text x="337.6" y="1151.4" font-size="8.5" font-family="'DejaVu Sans', 'Noto Sans CJK SC', sans-serif" fill="#3c3c3c" textLength="4" lengthAdjust="spacingAndGlyphs">J</text>
<text x="341.6" y="1151.4" font-size="11" font-family="'DejaVu Sans', 'Noto Sans CJK SC', sans-serif" fill="#3c3c3c" textLength="23" lengthAdjust="spacingAndGlyphs">(°C)</text>
<text x="264.7" y="950" font-size="11.5" font-family="'DejaVu Sans', 'Noto Sans CJK SC', sans-serif" fill="#222" textLength="7.5" lengthAdjust="spacingAndGlyphs">V</text>
<text x="272.7" y="950" font-size="7.5" font-family="'DejaVu Sans', 'Noto Sans CJK SC', sans-serif" fill="#222" textLength="8.1" lengthAdjust="spacingAndGlyphs">DS</text>
<text x="282.7" y="950" font-size="11.5" font-family="'DejaVu Sans', 'Noto Sans CJK SC', sans-serif" fill="#222" textLength="8" lengthAdjust="spacingAndGlyphs">=</text>
<text x="291.7" y="950" font-size="11.5" font-family="'DejaVu Sans', 'Noto Sans CJK SC', sans-serif" fill="#222" textLength="7.5" lengthAdjust="spacingAndGlyphs">V</text>
<text x="299.7" y="950" font-size="7.5" font-family="'DejaVu Sans', 'Noto Sans CJK SC', sans-serif" fill="#222" textLength="9" lengthAdjust="spacingAndGlyphs">GS</text>
<text x="272.2" y="963.2" font-size="11.5" font-family="'DejaVu Sans', 'Noto Sans CJK SC', sans-serif" fill="#222" textLength="2.8" lengthAdjust="spacingAndGlyphs">I</text>
<text x="276" y="963.2" font-size="7.5" font-family="'DejaVu Sans', 'Noto Sans CJK SC', sans-serif" fill="#222" textLength="4.2" lengthAdjust="spacingAndGlyphs">D</text>
<text x="282" y="963.2" font-size="11.5" font-family="'DejaVu Sans', 'Noto Sans CJK SC', sans-serif" fill="#222" textLength="28.5" lengthAdjust="spacingAndGlyphs">=250</text>
<text x="312" y="963.2" font-size="11.5" font-family="'Liberation Serif', 'Noto Sans CJK SC', sans-serif" fill="#222" textLength="7.5" lengthAdjust="spacingAndGlyphs" font-style="italic">µ</text>
<text x="321" y="963.2" font-size="11.5" font-family="'DejaVu Sans', 'Noto Sans CJK SC', sans-serif" fill="#222" textLength="8.2" lengthAdjust="spacingAndGlyphs">A</text>
<text transform="translate(81.8,1026.4) rotate(-90)" font-size="14.8" font-weight="bold" fill="#111" text-anchor="middle" textLength="124.7" lengthAdjust="spacingAndGlyphs">Normalized Vth</text>
<text x="146" y="1183.8" font-size="17" font-weight="bold" fill="#111" textLength="8.2" lengthAdjust="spacingAndGlyphs" stroke="#111" stroke-width="0.3">T</text>
<text x="153.9" y="1185.8999999999999" font-size="10.5" font-weight="bold" fill="#111" textLength="4.6" lengthAdjust="spacingAndGlyphs" stroke="#111" stroke-width="0.3">J</text>
<text x="158.9" y="1183.8" font-size="17" font-weight="bold" fill="#111" textLength="159.2" lengthAdjust="spacingAndGlyphs" stroke="#111" stroke-width="0.3">-Junction Temperature(</text>
<text x="318.6" y="1183.8" font-size="16.5" font-weight="bold" font-family="'Noto Sans CJK SC', 'Noto Sans CJK SC', sans-serif" fill="#111" textLength="10.5" lengthAdjust="spacingAndGlyphs" stroke="#111" stroke-width="0.3">℃</text>
<text x="328.7" y="1183.8" font-size="17" font-weight="bold" fill="#111" textLength="4.9" lengthAdjust="spacingAndGlyphs" stroke="#111" stroke-width="0.3">)</text>
<text x="98.75" y="1215.5" font-size="15" fill="#111" textLength="67.5" lengthAdjust="spacingAndGlyphs" stroke="#111" stroke-width="0.6">Figure 5. V</text>
<text x="166.7" y="1219" font-size="10" fill="#111" textLength="25.8" lengthAdjust="spacingAndGlyphs" stroke="#111" stroke-width="0.6">GS(th)</text>
<text x="197" y="1215.5" font-size="15" fill="#111" textLength="157.3" lengthAdjust="spacingAndGlyphs" stroke="#111" stroke-width="0.6">vs Junction Temperature</text>
<line x1="464.00" y1="932.79" x2="706.80" y2="932.79" stroke="#707070" stroke-width="1.1"/>
<line x1="464.00" y1="977.57" x2="706.80" y2="977.57" stroke="#707070" stroke-width="1.1"/>
<line x1="464.00" y1="1022.35" x2="706.80" y2="1022.35" stroke="#707070" stroke-width="1.1"/>
<line x1="464.00" y1="1067.13" x2="706.80" y2="1067.13" stroke="#707070" stroke-width="1.1"/>
<line x1="464.00" y1="1111.91" x2="706.80" y2="1111.91" stroke="#707070" stroke-width="1.1"/>
<line x1="464.00" y1="955.18" x2="706.80" y2="955.18" stroke="#000" stroke-width="2.0"/>
<line x1="464.00" y1="999.96" x2="706.80" y2="999.96" stroke="#000" stroke-width="2.0"/>
<line x1="464.00" y1="1044.74" x2="706.80" y2="1044.74" stroke="#000" stroke-width="2.0"/>
<line x1="464.00" y1="1089.52" x2="706.80" y2="1089.52" stroke="#000" stroke-width="2.0"/>
<line x1="484.23" y1="910.40" x2="484.23" y2="1134.30" stroke="#000" stroke-width="2.15"/>
<line x1="504.47" y1="910.40" x2="504.47" y2="1134.30" stroke="#000" stroke-width="2.15"/>
<line x1="524.70" y1="910.40" x2="524.70" y2="1134.30" stroke="#000" stroke-width="2.15"/>
<line x1="544.93" y1="910.40" x2="544.93" y2="1134.30" stroke="#000" stroke-width="2.15"/>
<line x1="565.17" y1="910.40" x2="565.17" y2="1134.30" stroke="#000" stroke-width="2.15"/>
<line x1="585.40" y1="910.40" x2="585.40" y2="1134.30" stroke="#000" stroke-width="2.15"/>
<line x1="605.63" y1="910.40" x2="605.63" y2="1134.30" stroke="#000" stroke-width="2.15"/>
<line x1="625.87" y1="910.40" x2="625.87" y2="1134.30" stroke="#000" stroke-width="2.15"/>
<line x1="646.10" y1="910.40" x2="646.10" y2="1134.30" stroke="#000" stroke-width="2.15"/>
<line x1="666.33" y1="910.40" x2="666.33" y2="1134.30" stroke="#000" stroke-width="2.15"/>
<line x1="686.57" y1="910.40" x2="686.57" y2="1134.30" stroke="#000" stroke-width="2.15"/>
<line x1="462.70" y1="910.40" x2="708.10" y2="910.40" stroke="#000" stroke-width="2.6"/>
<line x1="462.70" y1="1134.30" x2="708.10" y2="1134.30" stroke="#000" stroke-width="3.0"/>
<line x1="464.00" y1="910.40" x2="464.00" y2="1134.30" stroke="#000" stroke-width="2.6"/>
<line x1="706.80" y1="910.40" x2="706.80" y2="1134.30" stroke="#000" stroke-width="2.6"/>
<rect x="465.60" y="911.90" width="77.80" height="45.60" fill="#fff"/>
<path d="M468.60,1126.70 L472.55,1125.40 L476.50,1124.06 L480.45,1122.66 L484.40,1121.21 L488.35,1119.71 L492.31,1118.15 L496.26,1116.54 L500.21,1114.88 L504.16,1113.17 L508.11,1111.40 L512.06,1109.57 L516.01,1107.70 L519.96,1105.76 L523.91,1103.78 L527.86,1101.74 L531.81,1099.64 L535.76,1097.49 L539.72,1095.29 L543.67,1093.03 L547.62,1090.71 L551.57,1088.34 L555.52,1085.91 L559.47,1083.43 L563.42,1080.89 L567.37,1078.29 L571.32,1075.64 L575.27,1072.93 L579.22,1070.17 L583.17,1067.34 L587.13,1064.46 L591.08,1061.53 L595.03,1058.53 L598.98,1055.48 L602.93,1052.37 L606.88,1049.20 L610.83,1045.97 L614.78,1042.69 L618.73,1039.34 L622.68,1035.94 L626.63,1032.48 L630.58,1028.96 L634.54,1025.38 L638.49,1021.74 L642.44,1018.04 L646.39,1014.28 L650.34,1010.46 L654.29,1006.58 L658.24,1002.64 L662.19,998.65 L666.14,994.58 L670.09,990.46 L674.04,986.28 L677.99,982.04 L681.95,977.73 L685.90,973.37 L689.85,968.94 L693.80,964.45 L697.75,959.90 L701.70,955.28" fill="none" stroke="#000" stroke-width="2.4" stroke-linecap="round" stroke-linejoin="round"/>
<text x="436" y="913.9" font-size="9.8" fill="#222" textLength="14.6" lengthAdjust="spacingAndGlyphs" stroke="#222" stroke-width="0.2">3.0</text>
<text x="436" y="958.68" font-size="9.8" fill="#222" textLength="14.6" lengthAdjust="spacingAndGlyphs" stroke="#222" stroke-width="0.2">2.5</text>
<text x="436" y="1003.4599999999999" font-size="9.8" fill="#222" textLength="14.6" lengthAdjust="spacingAndGlyphs" stroke="#222" stroke-width="0.2">2.0</text>
<text x="436" y="1048.24" font-size="9.8" fill="#222" textLength="14.6" lengthAdjust="spacingAndGlyphs" stroke="#222" stroke-width="0.2">1.5</text>
<text x="436" y="1093.02" font-size="9.8" fill="#222" textLength="14.6" lengthAdjust="spacingAndGlyphs" stroke="#222" stroke-width="0.2">1.0</text>
<text x="436" y="1137.8" font-size="9.8" fill="#222" textLength="14.6" lengthAdjust="spacingAndGlyphs" stroke="#222" stroke-width="0.2">0.5</text>
<text x="463.4" y="1153.4" font-size="10" text-anchor="middle" fill="#111" textLength="15.2" lengthAdjust="spacingAndGlyphs" stroke="#111" stroke-width="0.25">-60</text>
<text x="483.6333333333333" y="1153.4" font-size="10" text-anchor="middle" fill="#111" textLength="15.2" lengthAdjust="spacingAndGlyphs" stroke="#111" stroke-width="0.25">-40</text>
<text x="503.8666666666666" y="1153.4" font-size="10" text-anchor="middle" fill="#111" textLength="15.2" lengthAdjust="spacingAndGlyphs" stroke="#111" stroke-width="0.25">-20</text>
<text x="524.7" y="1153.4" font-size="10" text-anchor="middle" fill="#111" textLength="6.45" lengthAdjust="spacingAndGlyphs" stroke="#111" stroke-width="0.25">0</text>
<text x="544.9333333333333" y="1153.4" font-size="10" text-anchor="middle" fill="#111" textLength="12.9" lengthAdjust="spacingAndGlyphs" stroke="#111" stroke-width="0.25">20</text>
<text x="565.1666666666666" y="1153.4" font-size="10" text-anchor="middle" fill="#111" textLength="12.9" lengthAdjust="spacingAndGlyphs" stroke="#111" stroke-width="0.25">40</text>
<text x="585.4" y="1153.4" font-size="10" text-anchor="middle" fill="#111" textLength="12.9" lengthAdjust="spacingAndGlyphs" stroke="#111" stroke-width="0.25">60</text>
<text x="605.6333333333333" y="1153.4" font-size="10" text-anchor="middle" fill="#111" textLength="12.9" lengthAdjust="spacingAndGlyphs" stroke="#111" stroke-width="0.25">80</text>
<text x="625.8666666666667" y="1153.4" font-size="10" text-anchor="middle" fill="#111" textLength="19.35" lengthAdjust="spacingAndGlyphs" stroke="#111" stroke-width="0.25">100</text>
<text x="646.0999999999999" y="1153.4" font-size="10" text-anchor="middle" fill="#111" textLength="19.35" lengthAdjust="spacingAndGlyphs" stroke="#111" stroke-width="0.25">120</text>
<text x="666.3333333333333" y="1153.4" font-size="10" text-anchor="middle" fill="#111" textLength="19.35" lengthAdjust="spacingAndGlyphs" stroke="#111" stroke-width="0.25">140</text>
<text x="686.5666666666666" y="1153.4" font-size="10" text-anchor="middle" fill="#111" textLength="19.35" lengthAdjust="spacingAndGlyphs" stroke="#111" stroke-width="0.25">160</text>
<text x="706.8" y="1153.4" font-size="10" text-anchor="middle" fill="#111" textLength="19.35" lengthAdjust="spacingAndGlyphs" stroke="#111" stroke-width="0.25">180</text>
<text x="474.5" y="927.7" font-size="10" fill="#222" textLength="1.9" lengthAdjust="spacingAndGlyphs">I</text>
<text x="477.7" y="931.9" font-size="10" fill="#222" textLength="7.7" lengthAdjust="spacingAndGlyphs">D</text>
<text x="489.1" y="927.7" font-size="10" fill="#222" textLength="6.9" lengthAdjust="spacingAndGlyphs">=</text>
<text x="498.7" y="927.7" font-size="10" fill="#222" textLength="21.5" lengthAdjust="spacingAndGlyphs">20A</text>
<text x="473.9" y="945.2" font-size="10" fill="#222" textLength="7.4" lengthAdjust="spacingAndGlyphs">V</text>
<text x="481.7" y="948.9" font-size="10" fill="#222" textLength="16.4" lengthAdjust="spacingAndGlyphs">GS</text>
<text x="502.9" y="945.2" font-size="10" fill="#222" textLength="6.4" lengthAdjust="spacingAndGlyphs">=</text>
<text x="512" y="945.2" font-size="10" fill="#222" textLength="21" lengthAdjust="spacingAndGlyphs">10V</text>
<text transform="translate(424.6,1015.5) rotate(-90)" font-size="14.8" font-weight="bold" fill="#111" text-anchor="middle" textLength="151.6" lengthAdjust="spacingAndGlyphs">Normalized Rdson</text>
<text x="483.5" y="1183.8" font-size="17" font-weight="bold" fill="#111" textLength="8.2" lengthAdjust="spacingAndGlyphs" stroke="#111" stroke-width="0.3">T</text>
<text x="491.4" y="1185.8999999999999" font-size="10.5" font-weight="bold" fill="#111" textLength="4.6" lengthAdjust="spacingAndGlyphs" stroke="#111" stroke-width="0.3">J</text>
<text x="496.4" y="1183.8" font-size="17" font-weight="bold" fill="#111" textLength="159.2" lengthAdjust="spacingAndGlyphs" stroke="#111" stroke-width="0.3">-Junction Temperature(</text>
<text x="656.1" y="1183.8" font-size="16.5" font-weight="bold" font-family="'Noto Sans CJK SC', 'Noto Sans CJK SC', sans-serif" fill="#111" textLength="10.5" lengthAdjust="spacingAndGlyphs" stroke="#111" stroke-width="0.3">℃</text>
<text x="666.2" y="1183.8" font-size="17" font-weight="bold" fill="#111" textLength="4.9" lengthAdjust="spacingAndGlyphs" stroke="#111" stroke-width="0.3">)</text>
<text x="452.3" y="1215.8" font-size="15" fill="#111" textLength="67.7" lengthAdjust="spacingAndGlyphs" stroke="#111" stroke-width="0.6">Figure 6. R</text>
<text x="520" y="1217.7" font-size="9.5" fill="#111" textLength="31" lengthAdjust="spacingAndGlyphs" stroke="#111" stroke-width="0.6">DS(ON)</text>
<text x="555.5" y="1215.8" font-size="15" fill="#111" textLength="157.25" lengthAdjust="spacingAndGlyphs" stroke="#111" stroke-width="0.6">vs Junction Temperature</text>
</svg></body></html>
